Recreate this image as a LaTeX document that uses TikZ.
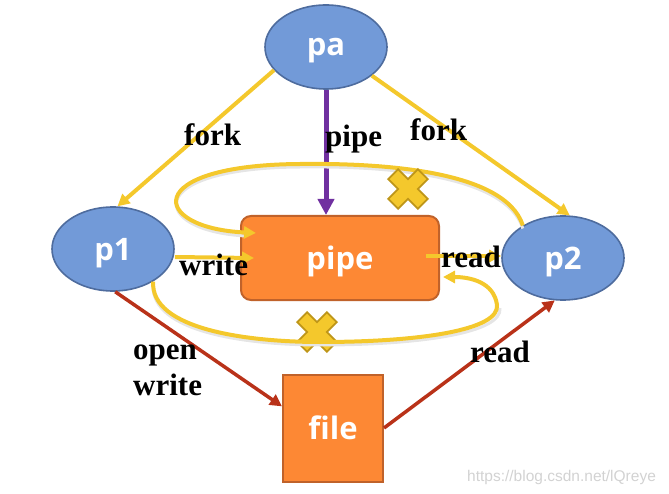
\documentclass[tikz,border=0pt]{standalone}
\usepackage{fontspec}
\setmainfont{Liberation Serif}
\newfontfamily\nodefont{Open Sans}
\newfontfamily\wmfont{Liberation Sans}
\usetikzlibrary{arrows.meta,shapes.geometric,calc}
\definecolor{blueF}{RGB}{114,154,216}
\definecolor{blueD}{RGB}{78,108,158}
\definecolor{orangeF}{RGB}{253,136,52}
\definecolor{orangeD}{RGB}{192,98,42}
\definecolor{yel}{RGB}{244,200,44}
\definecolor{yelD}{RGB}{190,150,25}
\definecolor{purp}{RGB}{112,48,160}
\definecolor{redl}{RGB}{185,50,25}
\tikzset{
  proc/.style={ellipse, draw=blueD, line width=1.6pt, fill=blueF, minimum width=122pt, minimum height=84pt, inner sep=0pt, text depth=0pt, text=white, font=\nodefont\bfseries\fontsize{31}{31}\selectfont},
  box/.style={rectangle, draw=orangeD, line width=2pt, fill=orangeF, inner sep=0pt, text depth=0pt, text=white, font=\nodefont\bfseries\fontsize{31}{31}\selectfont},
  yline/.style={draw=yel, line width=4pt, -{Triangle[length=12pt,width=12pt]}},
  shadowline/.style={draw=black!10, line width=3pt},
  rline/.style={draw=redl, line width=3.5pt, -{Triangle[length=12pt,width=12pt]}},
  pline/.style={draw=purp, line width=5pt, -{Triangle[length=16pt,width=16pt]}},
  lbl/.style={font=\bfseries\fontsize{31}{31}\selectfont, inner sep=0pt, anchor=base west},
  xcross/.pic={\draw[draw=yelD, fill=yel, line width=1.8pt, line join=miter]
     (7,7)--(7,21)--(-7,21)--(-7,7)--(-21,7)--(-21,-7)--(-7,-7)--(-7,-21)--(7,-21)--(7,-7)--(21,-7)--(21,7)--cycle;}
}
\begin{document}
\begin{tikzpicture}[x=1pt,y=-1pt]
\useasboundingbox (0,0) rectangle (669,494);
% nodes
\node[proc] (pa) at (326,47) {pa};
\node[proc] (p1) at (113,249) {p1};
\node[proc] (p2) at (563,258) {p2};
\node[box, rounded corners=10pt, minimum width=198pt, minimum height=84pt] (pipe) at (340,258) {pipe};
\node[box, minimum width=100pt, minimum height=107pt] (file) at (333,428) {file};
% fork arrows
\draw[yline] (pa.204) -- (p1.84);
\draw[yline] (pa.-32) -- (p2.81);
% pipe creation
\draw[pline] (pa.south) -- (pa.south |- pipe.north);
% write / read
\draw[yline] ([yshift=-8pt]p1.east) -- ([xshift=14pt]pipe.west);
\draw[yline] ([xshift=-14pt,yshift=2pt]pipe.east) -- ([yshift=2pt]p2.west);
% top loop
\draw[shadowline] ([yshift=-3pt]p2.141) .. controls (505,173) and (380,166) .. (300,167) .. controls (140,168) and (150,231) .. ([xshift=6pt,yshift=22pt]pipe.west);
\draw[yline] (p2.141) .. controls (505,170) and (380,163) .. (300,164) .. controls (140,165) and (150,228) .. ([xshift=16pt,yshift=25pt]pipe.west);
\pic[rotate=45] at (408,189) {xcross};
% bottom loop
\pic[rotate=45] at (317,332) {xcross};
\draw[shadowline] ([yshift=-3pt]p1.-39) .. controls (150,333) and (250,345) .. (320,345) .. controls (420,345) and (503,333) .. (500,308);
\draw[yline] (p1.-39) .. controls (150,330) and (250,342) .. (320,342) .. controls (420,342) and (500,330) .. (497,305) .. controls (494,282) and (470,277) .. ([xshift=3pt,yshift=-19pt]pipe.east);
% file arrows
\draw[rline] (p1.-87) -- (file.157);
\draw[rline] (file.east) -- (p2.-101);
% labels
\node[lbl] (l1) at (184,146) {fork};
\node[lbl] (l2) at (325,147) {pipe};
\node[lbl] (l3) at (410,141) {fork};
\node[lbl] (l4) at (179,276) {write};
\node[lbl] (l5) at (441,268) {read};
\node[lbl] (l6) at (133,359) {open};
\node[lbl] (l7) at (133,395) {write};
\node[lbl] (l8) at (470,362) {read};
\node[font=\wmfont\fontsize{15.5}{15.5}\selectfont, text=gray!35, anchor=base west, inner sep=0pt] (wm) at (467,481) {https://blog.csdn.net/lQreye};
\end{tikzpicture}
\end{document}
